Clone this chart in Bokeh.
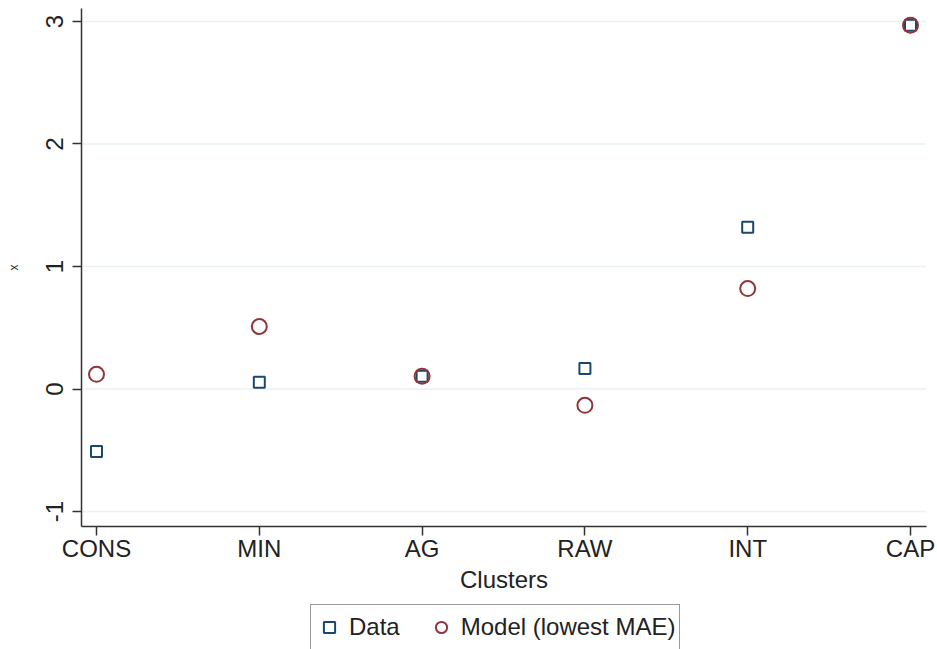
from bokeh.plotting import figure
from bokeh.models import ColumnDataSource, Legend, LegendItem, FixedTicker
from bokeh.embed import file_html
from bokeh.resources import INLINE

categories = ["CONS", "MIN", "AG", "RAW", "INT", "CAP"]
data_vals = [-0.51, 0.055, 0.105, 0.167, 1.32, 2.97]
model_vals = [0.12, 0.51, 0.105, -0.133, 0.82, 2.97]
y_ticks = [-1, 0, 1, 2, 3]
y_tick_labels = ["-1", "0", "1", "2", "3"]

xpos = list(range(len(categories)))
src = ColumnDataSource(dict(x=xpos, data=data_vals, model=model_vals))

FONT = "Liberation Sans"
NAVY = "#1a476f"
MAROON = "#90353b"
AXIS_BOTTOM = -1.122
AXIS_LEFT = -0.092
AXIS_RIGHT = 5.098

p = figure(width=937, height=649, output_backend="svg", toolbar_location=None,
           x_range=(-0.5897, 5.1658), y_range=(-2.1265, 3.1714),
           min_border=0, min_border_left=0, min_border_right=0,
           min_border_top=0, min_border_bottom=0)
p.outline_line_color = None
p.background_fill_color = "white"
p.border_fill_color = "white"

# horizontal grid lines at the y ticks, limited to the plot region
grid_src = ColumnDataSource(dict(y=y_ticks))
p.segment(x0=AXIS_LEFT, x1=AXIS_RIGHT, y0="y", y1="y", source=grid_src,
          line_color="#eaf2f3", line_width=1.5, level="underlay")

r1 = p.scatter("x", "data", source=src, marker="square", size=11,
               fill_color=None, line_color=NAVY, line_width=2)
r2 = p.scatter("x", "model", source=src, marker="circle", size=15,
               fill_color=None, line_color=MAROON, line_width=2)

# x axis
p.xaxis.fixed_location = AXIS_BOTTOM
p.xaxis.bounds = (AXIS_LEFT, AXIS_RIGHT)
p.xaxis.ticker = FixedTicker(ticks=xpos)
p.xaxis.major_label_overrides = {i: c for i, c in enumerate(categories)}
p.xaxis.axis_label = "Clusters"
p.xaxis.axis_label_text_font = FONT
p.xaxis.axis_label_text_font_style = "normal"
p.xaxis.axis_label_text_font_size = "24px"
p.xaxis.axis_label_text_color = "#222222"
p.xaxis.axis_label_standoff = 0
p.xaxis.major_label_text_font = FONT
p.xaxis.major_label_text_font_size = "24px"
p.xaxis.major_label_text_color = "#222222"
p.xaxis.major_label_standoff = 0
p.xaxis.major_tick_out = 9
p.xaxis.major_tick_in = 0
p.xaxis.minor_tick_line_color = None

# y axis
p.yaxis.fixed_location = AXIS_LEFT
p.yaxis.ticker = FixedTicker(ticks=y_ticks)
p.yaxis.bounds = (AXIS_BOTTOM, 3.11)
p.yaxis.major_label_overrides = dict(zip(y_ticks, y_tick_labels))
p.yaxis.major_label_orientation = "vertical"
p.yaxis.axis_label = "x"
p.yaxis.axis_label_text_font = FONT
p.yaxis.axis_label_text_font_style = "normal"
p.yaxis.axis_label_text_font_size = "12px"
p.yaxis.axis_label_text_color = "#222222"
p.yaxis.axis_label_standoff = 22
p.yaxis.major_label_text_font = FONT
p.yaxis.major_label_text_font_size = "24px"
p.yaxis.major_label_text_color = "#222222"
p.yaxis.major_label_standoff = 10
p.yaxis.major_tick_out = 9
p.yaxis.major_tick_in = 0
p.yaxis.minor_tick_line_color = None

for ax in (p.xaxis, p.yaxis):
    ax.axis_line_color = "#333333"
    ax.axis_line_width = 1.5
    ax.major_tick_line_color = "#333333"
    ax.major_tick_line_width = 1.5

p.xgrid.grid_line_color = None
p.ygrid.grid_line_color = None

legend = Legend(items=[LegendItem(label="Data", renderers=[r1]),
                       LegendItem(label="Model (lowest MAE)", renderers=[r2])],
                orientation="horizontal", location=(310, -1),
                label_text_font=FONT, label_text_font_size="24px",
                label_text_color="#222222",
                border_line_color="#333333", border_line_width=1.5,
                padding=4, spacing=27, glyph_width=28, glyph_height=36,
                label_standoff=6, background_fill_alpha=1.0)
p.add_layout(legend, "center")

open("out.html", "w").write(file_html(p, INLINE))
